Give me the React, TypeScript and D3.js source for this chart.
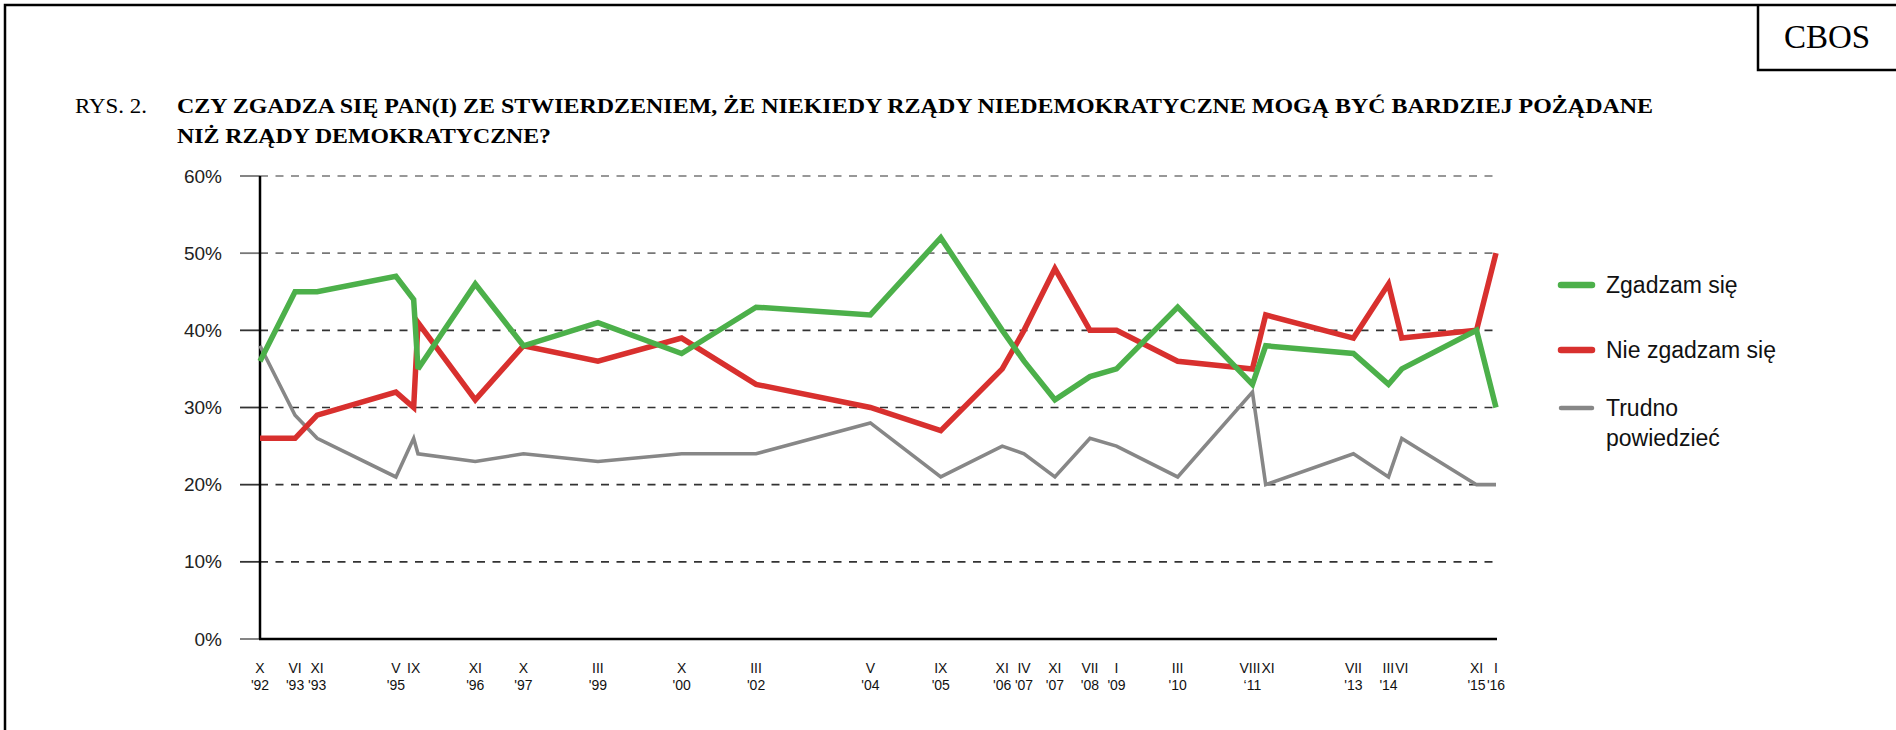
import { useEffect, useRef } from 'react'
import * as d3 from 'd3'

// survey dates (YYYY-MM-DD) as placed on the reference's time axis
const surveyDates = [
  '1992-10-01', '1993-06-01', '1993-11-01', '1995-05-01', '1995-09-01', '1995-10-01', '1996-11-01',
  '1997-10-01', '1999-03-01', '2000-10-01', '2002-03-01', '2004-05-01', '2005-09-01', '2006-11-01',
  '2007-04-01', '2007-11-01', '2008-07-01', '2009-01-01', '2010-03-01', '2011-08-01', '2011-11-01',
  '2013-07-01', '2014-03-01', '2014-06-01', '2015-11-01', '2016-03-15',
]

const agree = [36, 45, 45, 47, 44, 35, 46, 38, 41, 37, 43, 42, 52, 40, 36, 31, 34, 35, 43, 33, 38, 37, 33, 35, 40, 30]
const disagree = [26, 26, 29, 32, 30, 41, 31, 38, 36, 39, 33, 30, 27, 35, 40, 48, 40, 40, 36, 35, 42, 39, 46, 39, 40, 50]
const hardToSay = [38, 29, 26, 21, 26, 24, 23, 24, 23, 24, 24, 28, 21, 25, 24, 21, 26, 25, 21, 32, 20, 24, 21, 26, 20, 20]

// x tick labels: month (roman) and year
const tickDates = [
  '1992-10-01', '1993-06-01', '1993-11-01', '1995-05-01', '1995-09-01', '1996-11-01', '1997-10-01',
  '1999-03-01', '2000-10-01', '2002-03-01', '2004-05-01', '2005-09-01', '2006-11-01', '2007-04-01',
  '2007-11-01', '2008-07-01', '2009-01-01', '2010-03-01', '2011-08-01', '2011-11-01', '2013-07-01',
  '2014-03-01', '2014-06-01', '2015-11-01', '2016-03-15',
]
const tickMonths = ['X', 'VI', 'XI', 'V', 'IX', 'XI', 'X', 'III', 'X', 'III', 'V', 'IX', 'XI', 'IV', 'XI', 'VII', 'I', 'III', 'VIII', 'XI', 'VII', 'III', 'VI', 'XI', 'I']
const tickYears = ["'92", "'93", "'93", "'95", '', "'96", "'97", "'99", "'00", "'02", "'04", "'05", "'06", "'07", "'07", "'08", "'09", "'10", '\u201811', '', "'13", "'14", '', "'15", "'16"]

const yTicks = [0, 10, 20, 30, 40, 50, 60]

const seriesNames = ['Zgadzam się', 'Nie zgadzam się', 'Trudno powiedzieć']
const seriesColors = ['#4cb04a', '#d8302e', '#878787']

const titleLines = [
  'CZY ZGADZA SIĘ PAN(I) ZE STWIERDZENIEM, ŻE NIEKIEDY RZĄDY NIEDEMOKRATYCZNE MOGĄ BYĆ BARDZIEJ POŻĄDANE',
  'NIŻ RZĄDY DEMOKRATYCZNE?',
]

const serif = '"Liberation Serif", "Times New Roman", serif'
const sans = '"Liberation Sans", Arial, sans-serif'

const App = () => {
  const svgRef = useRef<SVGSVGElement | null>(null)

  useEffect(() => {
    if (!svgRef.current) return
    const svg = d3.select(svgRef.current)
    svg.selectAll('*').remove()

    const W = 1896
    const H = 730
    const plot = { left: 260, right: 1497, top: 176, bottom: 639 }

    svg.append('rect').attr('width', W).attr('height', H).attr('fill', 'white')

    // outer frame (top + left)
    svg.append('path')
      .attr('d', `M5,${H} V5 H${W}`)
      .attr('fill', 'none')
      .attr('stroke', 'black')
      .attr('stroke-width', 2.5)

    // CBOS box
    svg.append('path')
      .attr('d', `M1758,5 V70 H${W}`)
      .attr('fill', 'none')
      .attr('stroke', 'black')
      .attr('stroke-width', 2.5)
    svg.append('text')
      .attr('x', 1827)
      .attr('y', 48)
      .attr('text-anchor', 'middle')
      .attr('font-family', serif)
      .attr('font-size', 33)
      .text('CBOS')

    // title
    svg.append('text')
      .attr('x', 75)
      .attr('y', 113)
      .attr('font-family', serif)
      .attr('font-size', 21)
      .attr('textLength', 72)
      .attr('lengthAdjust', 'spacingAndGlyphs')
      .text('RYS. 2.')
    const titleWidths = [1476, 374]
    titleLines.forEach((t, i) => {
      svg.append('text')
        .attr('x', 177)
        .attr('y', 113 + i * 30)
        .attr('font-family', serif)
        .attr('font-weight', 'bold')
        .attr('font-size', 21)
        .attr('textLength', titleWidths[i])
        .attr('lengthAdjust', 'spacingAndGlyphs')
        .text(t)
    })

    const parse = d3.timeParse('%Y-%m-%d')
    const dates = surveyDates.map((d) => parse(d)!)

    const x = d3
      .scaleTime()
      .domain([dates[0], dates[dates.length - 1]])
      .range([plot.left, plot.right - 1])

    const y = d3.scaleLinear().domain([0, 60]).range([plot.bottom, plot.top])

    // grid lines + small ticks left of the axis
    yTicks.forEach((v) => {
      const yy = y(v)
      svg.append('line')
        .attr('x1', 240).attr('x2', plot.left)
        .attr('y1', yy).attr('y2', yy)
        .attr('stroke', v >= 50 || v === 0 ? '#777' : '#333')
        .attr('stroke-width', 1.8)
      if (v > 0) {
        svg.append('line')
          .attr('x1', plot.left).attr('x2', plot.right - 1)
          .attr('y1', yy).attr('y2', yy)
          .attr('stroke', v >= 50 ? '#777' : '#333')
          .attr('stroke-width', 1.6)
          .attr('stroke-dasharray', '8,7.5')
      }
      svg.append('text')
        .attr('x', 222)
        .attr('y', yy)
        .attr('dy', '0.35em')
        .attr('text-anchor', 'end')
        .attr('font-family', sans)
        .attr('font-size', 19)
        .attr('fill', '#222')
        .text(`${v}%`)
    })

    // axes
    svg.append('line')
      .attr('x1', plot.left).attr('x2', plot.left)
      .attr('y1', plot.top).attr('y2', plot.bottom)
      .attr('stroke', 'black').attr('stroke-width', 2.5)
    svg.append('line')
      .attr('x1', plot.left - 1).attr('x2', plot.right)
      .attr('y1', plot.bottom).attr('y2', plot.bottom)
      .attr('stroke', 'black').attr('stroke-width', 2.5)

    // series lines (gray under red under green)
    const series = [agree, disagree, hardToSay]
    const widths = [5.5, 5.5, 3.6]
    const line = d3
      .line<number>()
      .x((_, i) => x(dates[i]))
      .y((d) => y(d))

    ;[2, 1, 0].forEach((s) => {
      svg.append('path')
        .datum(series[s])
        .attr('fill', 'none')
        .attr('stroke', seriesColors[s])
        .attr('stroke-width', widths[s])
        .attr('stroke-linejoin', 'miter')
        .attr('stroke-miterlimit', 3)
        .attr('stroke-linecap', 'butt')
        .attr('d', line)
    })

    // x labels, crowded neighbours pushed apart a little
    const gx = svg.append('g').attr('font-family', sans).attr('font-size', 14).attr('fill', '#111')
    const monthNodes = tickDates.map((d, i) => {
      const xx = x(parse(d)!)
      const t = gx.append('text')
        .attr('x', xx)
        .attr('y', 673)
        .attr('text-anchor', 'middle')
        .text(tickMonths[i])
      if (tickYears[i]) {
        gx.append('text')
          .attr('x', xx)
          .attr('y', 690)
          .attr('text-anchor', 'middle')
          .text(tickYears[i])
      }
      return { t, xx, w: (t.node() as SVGTextElement).getComputedTextLength() }
    })
    for (let i = 1; i < monthNodes.length; i++) {
      const a = monthNodes[i - 1]
      const b = monthNodes[i]
      const overlap = a.xx + a.w / 2 + 1 - (b.xx - b.w / 2)
      if (overlap > 0) {
        a.xx -= overlap / 2
        b.xx += overlap / 2
        a.t.attr('x', a.xx)
        b.t.attr('x', b.xx)
      }
    }

    // legend
    const legendY = [285, 350, 408]
    seriesNames.forEach((name, i) => {
      svg.append('line')
        .attr('x1', 1561).attr('x2', 1592)
        .attr('y1', legendY[i]).attr('y2', legendY[i])
        .attr('stroke', seriesColors[i])
        .attr('stroke-width', i === 2 ? 4.5 : 6.5)
        .attr('stroke-linecap', 'round')
      const t = svg.append('text')
        .attr('font-family', sans)
        .attr('font-size', 23)
        .attr('fill', '#111')
      const words = i === 2 ? ['Trudno', 'powiedzieć'] : [name]
      words.forEach((w, k) => {
        t.append('tspan')
          .attr('x', 1606)
          .attr('y', legendY[i] + k * 30)
          .attr('dy', '0.35em')
          .text(w)
      })
    })
  }, [])

  return (
    <svg
      ref={svgRef}
      width={1896}
      height={730}
      style={{ position: 'absolute', left: 0, top: 0, display: 'block' }}
    ></svg>
  )
}

export default App
